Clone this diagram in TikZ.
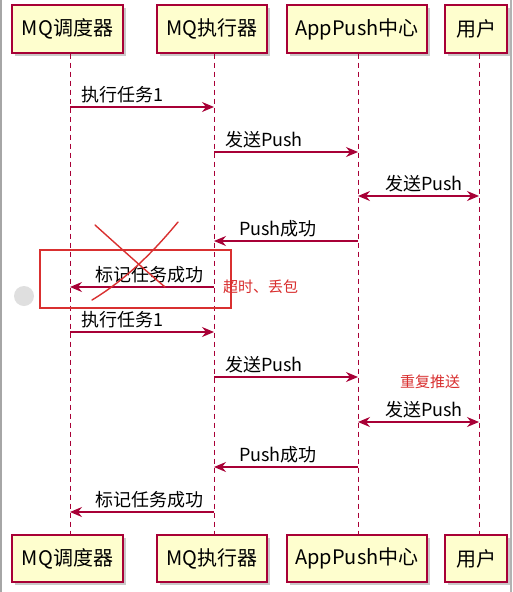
\documentclass[tikz,border=0pt]{standalone}
\usepackage{fontspec}
\setmainfont{Noto Sans CJK SC}
\usetikzlibrary{arrows.meta,shadows}
\definecolor{pu}{HTML}{A80036}
\definecolor{pufill}{HTML}{FEFECE}
\definecolor{note}{HTML}{D93030}
\begin{document}
\begin{tikzpicture}[x=1pt,y=-1pt,
 actor/.style={draw=pu,line width=1.4pt,fill=pufill,inner sep=0pt,font=\fontsize{20}{22}\selectfont,text=black,drop shadow={shadow xshift=3pt,shadow yshift=-3pt,fill=black!35,opacity=0.6}},
 life/.style={draw=pu,line width=1pt,dash pattern=on 5pt off 4pt},
 tip/.tip={Stealth[length=12pt,width=10pt,inset=4pt]},
 msg/.style={draw=pu,line width=1.2pt,-tip},
 bmsg/.style={draw=pu,line width=1.2pt,tip-tip},
 lbl/.style={font=\fontsize{18}{19}\selectfont,text=black,anchor=base west,inner sep=0pt},
 redlbl/.style={font=\fontsize{15}{16}\selectfont,text=note,anchor=west,inner sep=0pt},
 redline/.style={draw=note,line width=1.4pt,line cap=round},
]
\useasboundingbox (0,0) rectangle (512,592);
\fill[white] (0,0) rectangle (512,592);
\fill[gray!70] (0,0) rectangle (2,592);
\fill[gray!60] (510,0) rectangle (512,592);

% lifeline x positions
\coordinate (L1) at (70,0);
\coordinate (L2) at (214,0);
\coordinate (L3) at (358,0);
\coordinate (L4) at (479,0);

% actors top
\node[actor,minimum width=111pt,minimum height=48pt] (t1) at (67.5,29) {MQ调度器};
\node[actor,minimum width=110pt,minimum height=48pt] (t2) at (212,29) {MQ执行器};
\node[actor,minimum width=140pt,minimum height=48pt] (t3) at (357,29) {AppPush中心};
\node[actor,minimum width=62pt,minimum height=48pt] (t4) at (476,29) {用户};
% actors bottom
\node[actor,minimum width=111pt,minimum height=47pt] (b1) at (67.5,558.5) {MQ调度器};
\node[actor,minimum width=110pt,minimum height=47pt] (b2) at (212,558.5) {MQ执行器};
\node[actor,minimum width=140pt,minimum height=47pt] (b3) at (357,558.5) {AppPush中心};
\node[actor,minimum width=62pt,minimum height=47pt] (b4) at (476,558.5) {用户};

% lifelines
\draw[life] (t1.south -| L1) -- (b1.north -| L1);
\draw[life] (t2.south -| L2) -- (b2.north -| L2);
\draw[life] (t3.south -| L3) -- (b3.north -| L3);
\draw[life] (t4.south -| L4) -- (b4.north -| L4);

% message rows
\coordinate (m1) at (0,107);
\coordinate (m2) at (0,152);
\coordinate (m3) at (0,196);
\coordinate (m4) at (0,241);
\coordinate (m5) at (0,287);
\coordinate (m6) at (0,332);
\coordinate (m7) at (0,377);
\coordinate (m8) at (0,422);
\coordinate (m9) at (0,467);
\coordinate (m10) at (0,512);

\draw[msg] (m1 -| L1) -- (m1 -| L2);
\node[lbl] (n1) at (81,101) {执行任务1};
\draw[msg] (m2 -| L2) -- (m2 -| L3);
\node[lbl] (n2) at (225,146) {发送Push};
\draw[bmsg] (m3 -| L3) -- (m3 -| L4);
\node[lbl] (n3) at (385,190) {发送Push};
\draw[msg] (m4 -| L3) -- (m4 -| L2);
\node[lbl] (n4) at (239,235) {Push成功};
\draw[msg] (m5 -| L2) -- (m5 -| L1);
\node[lbl] (n5) at (95,281) {标记任务成功};
\draw[msg] (m6 -| L1) -- (m6 -| L2);
\node[lbl] (n6) at (81,326) {执行任务1};
\draw[msg] (m7 -| L2) -- (m7 -| L3);
\node[lbl] (n7) at (225,371) {发送Push};
\draw[bmsg] (m8 -| L3) -- (m8 -| L4);
\node[lbl] (n8) at (385,416) {发送Push};
\draw[msg] (m9 -| L3) -- (m9 -| L2);
\node[lbl] (n9) at (239,461) {Push成功};
\draw[msg] (m10 -| L2) -- (m10 -| L1);
\node[lbl] (n10) at (95,506) {标记任务成功};

% red annotations
\draw[draw=note,line width=1.6pt] (40,250) rectangle (231,308);
\draw[redline] (95,225) .. controls (125,252) and (145,270) .. (165,287);
\draw[redline] (178,222) .. controls (150,256) and (122,282) .. (92,300);
\node[redlbl] (r1) at (223,287) {超时、丢包};
\node[redlbl] (r2) at (400,382) {重复推送};

% side handle
\fill[gray!25] (24,296) circle (10);
\end{tikzpicture}
\end{document}
